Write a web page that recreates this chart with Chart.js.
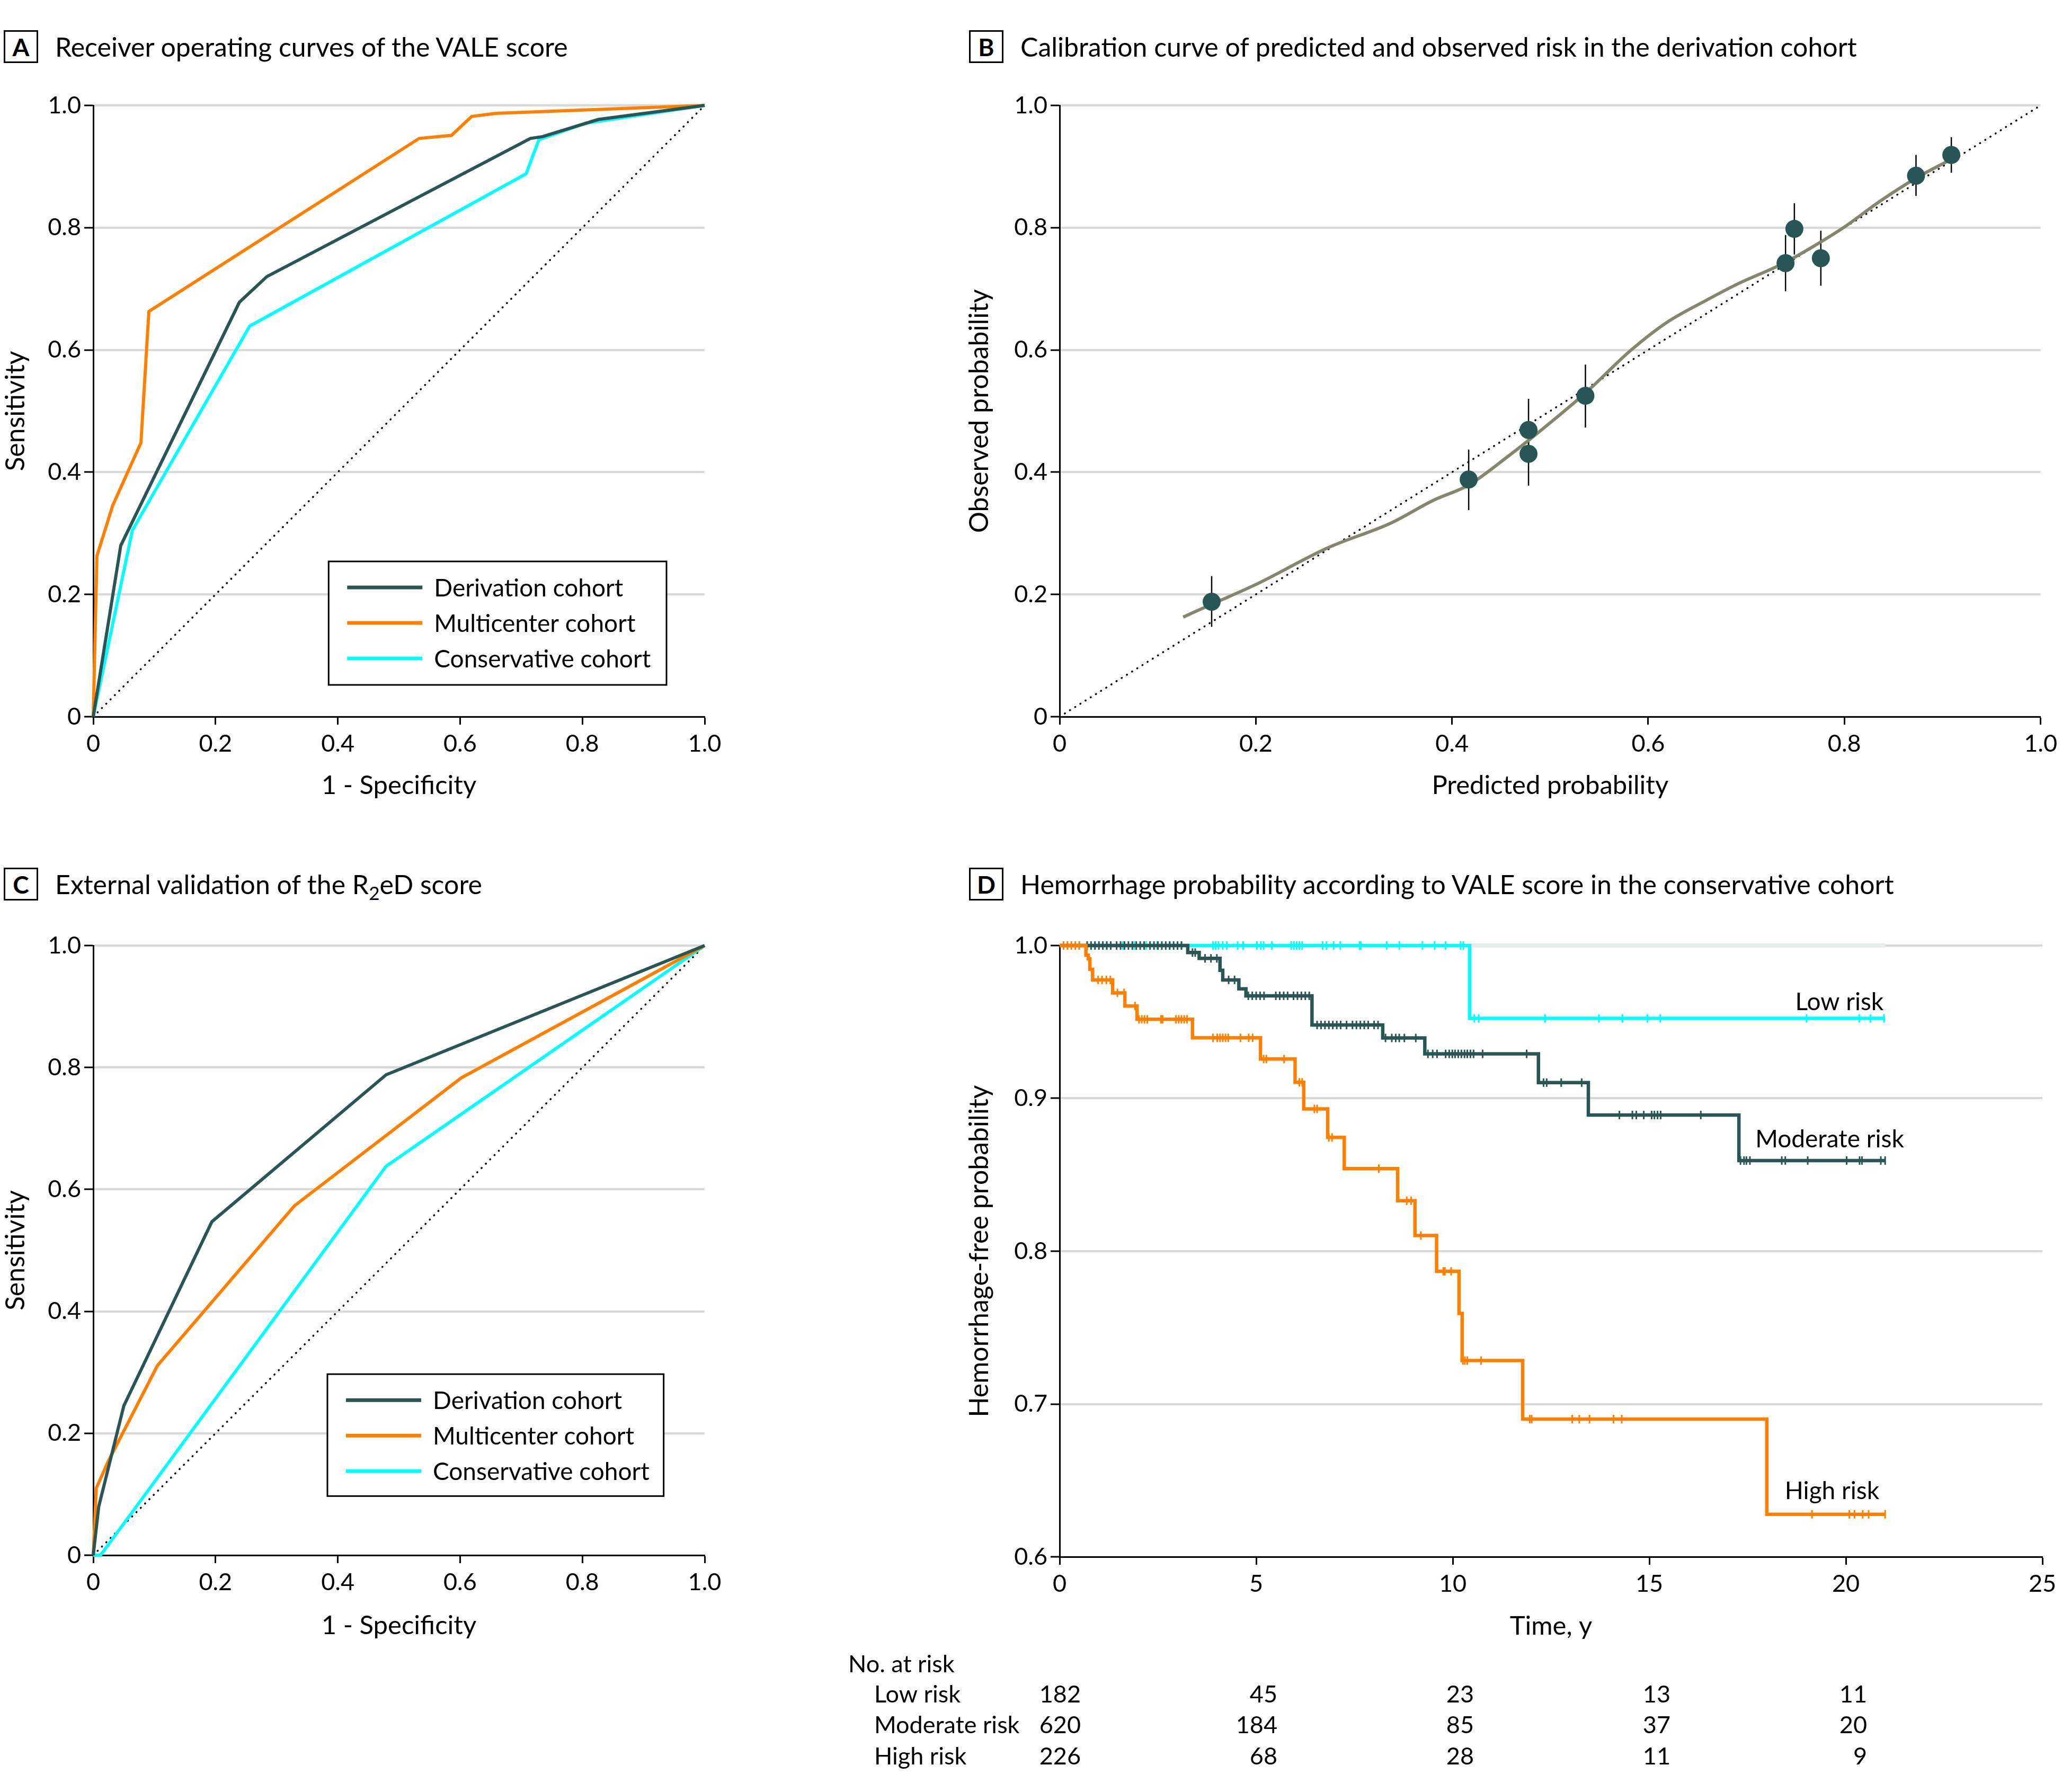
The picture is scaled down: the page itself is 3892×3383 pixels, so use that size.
<!DOCTYPE html>
<html>
<head>
<meta charset="utf-8">
<script src="https://cdn.jsdelivr.net/npm/chart.js@4.4.1/dist/chart.umd.min.js"></script>
<style>
  body { margin: 0; background: #fff; width: 3892px; height: 3383px; position: relative; overflow: hidden; font-family: Lato, "Open Sans", sans-serif; color: #000; }
  canvas { position: absolute; }
  .tag { position: absolute; width: 59px; height: 56px; border: 3px solid #000; font-weight: bold; font-size: 46px; display: flex; align-items: center; justify-content: center; }
  .title { position: absolute; font-size: 50px; line-height: 50px; white-space: nowrap; }
  .title sub { font-size: 35px; vertical-align: -11px; line-height: 0; }
</style>
</head>
<body>
<div class="tag" style="left:7px;top:57px">A</div>
<div class="title" style="left:104px;top:63px">Receiver operating curves of the VALE score</div>
<div class="tag" style="left:1829px;top:57px">B</div>
<div class="title" style="left:1926px;top:63px">Calibration curve of predicted and observed risk in the derivation cohort</div>
<div class="tag" style="left:7px;top:1638px">C</div>
<div class="title" style="left:104px;top:1644px">External validation of the R<sub>2</sub>eD score</div>
<div class="tag" style="left:1829px;top:1638px">D</div>
<div class="title" style="left:1926px;top:1644px">Hemorrhage probability according to VALE score in the conservative cohort</div>

<canvas id="chartA" width="1420" height="1400" style="left:0px;top:150px"></canvas>
<canvas id="chartB" width="2092" height="1400" style="left:1800px;top:150px"></canvas>
<canvas id="chartC" width="1420" height="1400" style="left:0px;top:1750px"></canvas>
<canvas id="chartD" width="2392" height="1633" style="left:1500px;top:1750px"></canvas>

<script>
// Panel A - ROC curves of the VALE score
const valeDerivationFpr = [0, 0.045, 0.239, 0.284, 0.715, 0.735, 0.826, 1];
const valeDerivationTpr = [0, 0.280, 0.678, 0.720, 0.946, 0.949, 0.977, 1];
const valeMulticenterFpr = [0, 0.006, 0.032, 0.078, 0.091, 0.533, 0.586, 0.619, 0.659, 1];
const valeMulticenterTpr = [0, 0.263, 0.346, 0.448, 0.663, 0.946, 0.951, 0.982, 0.987, 1];
const valeConservativeFpr = [0, 0.064, 0.256, 0.708, 0.729, 0.806, 1];
const valeConservativeTpr = [0, 0.305, 0.639, 0.888, 0.944, 0.971, 1];

// Panel B - calibration
const predictedProb = [0.155, 0.417, 0.478, 0.478, 0.536, 0.740, 0.749, 0.776, 0.873, 0.909];
const observedProb = [0.188, 0.388, 0.469, 0.430, 0.525, 0.742, 0.798, 0.750, 0.885, 0.919];
const observedLow = [0.147, 0.338, 0.418, 0.378, 0.473, 0.696, 0.756, 0.705, 0.852, 0.890];
const observedHigh = [0.230, 0.437, 0.520, 0.482, 0.576, 0.788, 0.840, 0.795, 0.919, 0.948];
const smoothPredicted = [0.126, 0.155, 0.201, 0.273, 0.338, 0.381, 0.417, 0.458, 0.478, 0.537, 0.582, 0.619, 0.659, 0.690, 0.737, 0.768, 0.799, 0.836, 0.873, 0.909];
const smoothObserved = [0.163, 0.184, 0.217, 0.276, 0.317, 0.354, 0.379, 0.427, 0.452, 0.531, 0.599, 0.645, 0.681, 0.707, 0.741, 0.769, 0.800, 0.843, 0.881, 0.912];

// Panel C - external validation of the R2eD score
const r2edDerivationFpr = [0, 0.009, 0.050, 0.194, 0.479, 1];
const r2edDerivationTpr = [0, 0.080, 0.245, 0.547, 0.788, 1];
const r2edMulticenterFpr = [0, 0.005, 0.025, 0.105, 0.329, 0.602, 1];
const r2edMulticenterTpr = [0, 0.110, 0.155, 0.311, 0.573, 0.783, 1];
const r2edConservativeFpr = [0, 0.012, 0.479, 1];
const r2edConservativeTpr = [0, 0, 0.638, 1];

// Panel D - Kaplan-Meier, hemorrhage-free probability
const lowTimes = [0, 10.43, 21.0];
const lowSurv = [1, 0.9523, 0.9523];
const lowCensor = [0.2, 0.5, 0.9, 1.2, 1.61, 1.9, 2.2, 2.48, 2.8, 3.1, 3.90, 3.97, 4.04, 4.15, 4.25, 4.53, 4.67, 5.02, 5.12, 5.19, 5.40, 5.89, 5.96, 6.03, 6.10, 6.17, 6.69, 6.79, 6.97, 7.14, 7.63, 7.66, 8.32, 8.64, 9.23, 9.54, 9.82, 10.20, 10.27, 10.55, 10.66, 12.35, 13.72, 14.32, 14.95, 15.28, 19.00, 20.34, 20.63, 20.97];
const lowUpperTimes = [10.43, 21.0];
const lowUpperSurv = [1, 1];

const modTimes = [0, 3.26, 3.55, 4.08, 4.15, 4.56, 4.74, 6.42, 8.22, 9.29, 12.18, 13.45, 17.28, 21.0];
const modSurv = [1, 0.9954, 0.9916, 0.9838, 0.9775, 0.9717, 0.9671, 0.948, 0.9395, 0.9291, 0.9103, 0.8891, 0.8593, 0.8593];
const modCensor = [0.7, 0.8, 0.9, 1.0, 1.1, 1.2, 1.3, 1.45, 1.55, 1.65, 1.75, 1.85, 1.95, 2.05, 2.15, 2.3, 2.4, 2.5, 2.6, 2.7, 2.8, 2.9, 3.0, 3.1, 3.38, 3.45, 3.7, 3.85, 4.0, 4.3, 4.45, 4.8, 4.9, 5.0, 5.1, 5.2, 5.5, 5.6, 5.7, 5.8, 5.95, 6.05, 6.15, 6.25, 6.35, 6.55, 6.65, 6.75, 6.85, 6.95, 7.05, 7.15, 7.3, 7.45, 7.55, 7.65, 7.75, 7.85, 8.0, 8.1, 8.29, 8.45, 8.55, 8.64, 8.77, 9.06, 9.37, 9.49, 9.60, 9.82, 9.91, 9.99, 10.06, 10.14, 10.22, 10.30, 10.37, 10.45, 10.53, 10.76, 11.88, 12.31, 12.39, 12.76, 13.28, 14.24, 14.57, 14.67, 14.86, 15.06, 15.13, 15.21, 15.29, 16.31, 17.32, 17.41, 17.47, 17.56, 18.37, 18.46, 19.03, 20.02, 20.35, 20.41, 20.89, 21.0];

const highTimes = [0, 0.67, 0.73, 0.77, 0.84, 1.35, 1.66, 1.97, 3.38, 5.11, 5.99, 6.21, 6.82, 7.24, 8.60, 9.04, 9.59, 10.16, 10.24, 11.78, 17.99, 21.0];
const highSurv = [1, 0.9937, 0.9913, 0.9844, 0.9775, 0.969, 0.9604, 0.9517, 0.9396, 0.9257, 0.9105, 0.8931, 0.8744, 0.854, 0.833, 0.8102, 0.7868, 0.7593, 0.7284, 0.6901, 0.6278, 0.6278];
const highCensor = [0.1, 0.2, 0.3, 0.4, 0.5, 0.98, 1.08, 1.19, 1.29, 1.47, 1.64, 1.92, 2.02, 2.09, 2.16, 2.23, 2.58, 2.62, 2.96, 3.03, 3.10, 3.17, 3.24, 3.90, 4.01, 4.08, 4.15, 4.22, 4.29, 4.60, 4.81, 4.91, 5.19, 5.26, 5.71, 6.10, 6.17, 6.48, 6.55, 6.85, 6.93, 8.12, 8.83, 8.94, 9.19, 9.76, 9.80, 9.96, 10.26, 10.31, 10.37, 10.72, 11.96, 12.01, 13.04, 13.22, 13.48, 14.09, 14.30, 19.14, 20.09, 20.22, 20.43, 20.58, 21.0];

// number at risk table
const riskTimes = [0, 5, 10, 15, 20];
const riskGroups = ['Low risk', 'Moderate risk', 'High risk'];
const riskLow = [182, 45, 23, 13, 11];
const riskModerate = [620, 184, 85, 37, 20];
const riskHigh = [226, 68, 28, 11, 9];

const FONT = 'Lato, "Open Sans", sans-serif';
const darkTeal = '#2b5454';
const orange = '#ff8000';
const cyan = '#00ffff';
const gridGray = '#d9d9d9';

Chart.defaults.font.family = FONT;
Chart.defaults.color = '#000';

function toPoints(xs, ys) {
    return xs.map((x, i) => ({ x: x, y: ys[i] }));
}

function survAt(times, surv, t) {
    let s = surv[0];
    for (let i = 0; i < times.length; i++) {
        if (times[i] <= t) s = surv[i];
    }
    return s;
}

const fmtProb = v => Math.abs(v) < 1e-9 ? '0' : v.toFixed(1);

function xAxis(o) {
    return {
        type: 'linear', min: o.min, max: o.max,
        ticks: { stepSize: o.step, color: '#000', font: { size: 45 }, padding: 9, maxRotation: 0, autoSkip: false, callback: o.fmt },
        grid: { drawOnChartArea: false, drawTicks: true, tickLength: 15, tickWidth: 3, tickColor: '#000' },
        border: { display: true, color: '#000', width: 3 },
        title: { display: true, text: o.title, color: '#000', font: { size: 49 }, padding: { top: 0, bottom: o.titlePad } },
        afterFit: s => { s.height = o.height; }
    };
}

function yAxis(o) {
    return {
        type: 'linear', min: o.min, max: o.max,
        ticks: { stepSize: o.step, color: '#000', font: { size: 45 }, padding: 6, autoSkip: false, callback: fmtProb },
        grid: { color: gridGray, lineWidth: 4, drawTicks: true, tickLength: 17, tickWidth: 3, tickColor: '#000' },
        border: { display: true, color: '#000', width: 3 },
        title: { display: true, text: o.title, color: '#000', font: { size: 50 }, padding: { top: o.titlePad, bottom: 0 } },
        afterFit: s => { s.width = o.width; }
    };
}

// legend drawn inside the plot, framed box
const boxLegend = {
    id: 'boxLegend',
    afterDraw(chart, args, o) {
        if (!o.show) return;
        const { ctx, chartArea: a } = chart;
        const w = a.right - a.left, h = a.bottom - a.top;
        const x0 = a.left + o.x0 * w, x1 = a.left + o.x1 * w;
        const y0 = a.top + o.y0 * h, y1 = a.top + o.y1 * h;
        ctx.save();
        ctx.fillStyle = '#fff';
        ctx.fillRect(x0, y0, x1 - x0, y1 - y0);
        ctx.strokeStyle = '#000';
        ctx.lineWidth = 3;
        ctx.strokeRect(x0, y0, x1 - x0, y1 - y0);
        const items = chart.data.datasets.filter(d => d.inLegend);
        items.forEach((d, i) => {
            const y = y0 + 49 + i * 67;
            ctx.strokeStyle = d.borderColor;
            ctx.lineWidth = 7;
            ctx.beginPath();
            ctx.moveTo(x0 + 35, y);
            ctx.lineTo(x0 + 177, y);
            ctx.stroke();
            ctx.fillStyle = '#000';
            ctx.font = '46px ' + FONT;
            ctx.textBaseline = 'middle';
            ctx.textAlign = 'left';
            ctx.fillText(d.label, x0 + 199, y + 2);
        });
        ctx.restore();
    }
};

function diagonal() {
    return {
        data: [{ x: 0, y: 0 }, { x: 1, y: 1 }],
        borderColor: '#000', borderWidth: 3.5, borderDash: [0.5, 11], borderCapStyle: 'round',
        pointRadius: 0, clip: false
    };
}

function rocChart(id, curves, legendPos, pad, xHeight, xTitlePad) {
    const datasets = curves.map(c => ({
        label: c.label, inLegend: true,
        data: toPoints(c.x, c.y),
        borderColor: c.color, borderWidth: 6, pointRadius: 0, tension: 0, clip: false
    }));
    datasets.push(diagonal());
    new Chart(document.getElementById(id), {
        type: 'line',
        data: { datasets: datasets },
        options: {
            responsive: false, animation: false, devicePixelRatio: 1,
            layout: { padding: pad },
            plugins: { legend: { display: false }, tooltip: { enabled: false }, boxLegend: legendPos },
            scales: {
                x: xAxis({ min: 0, max: 1, step: 0.2, fmt: fmtProb, title: '1 - Specificity', height: xHeight, titlePad: xTitlePad }),
                y: yAxis({ min: 0, max: 1, step: 0.2, title: 'Sensitivity', width: 176, titlePad: 0 })
            }
        },
        plugins: [boxLegend]
    });
}

rocChart('chartA', [
    { label: 'Derivation cohort', x: valeDerivationFpr, y: valeDerivationTpr, color: darkTeal },
    { label: 'Multicenter cohort', x: valeMulticenterFpr, y: valeMulticenterTpr, color: orange },
    { label: 'Conservative cohort', x: valeConservativeFpr, y: valeConservativeTpr, color: cyan }
], { show: true, x0: 0.385, x1: 0.9376, y0: 0.746, y1: 0.948 },
   { left: 0, top: 49, right: 90, bottom: 0 }, 197, 37);

rocChart('chartC', [
    { label: 'Derivation cohort', x: r2edDerivationFpr, y: r2edDerivationTpr, color: darkTeal },
    { label: 'Multicenter cohort', x: r2edMulticenterFpr, y: r2edMulticenterTpr, color: orange },
    { label: 'Conservative cohort', x: r2edConservativeFpr, y: r2edConservativeTpr, color: cyan }
], { show: true, x0: 0.383, x1: 0.933, y0: 0.703, y1: 0.903 },
   { left: 0, top: 35, right: 90, bottom: 0 }, 214, 51);

// error bars for the calibration points
const errorBars = {
    id: 'errorBars',
    beforeDatasetsDraw(chart) {
        const { ctx, scales: { x, y } } = chart;
        ctx.save();
        ctx.strokeStyle = '#000';
        ctx.lineWidth = 2.5;
        predictedProb.forEach((p, i) => {
            const px = x.getPixelForValue(p);
            ctx.beginPath();
            ctx.moveTo(px, y.getPixelForValue(observedLow[i]));
            ctx.lineTo(px, y.getPixelForValue(observedHigh[i]));
            ctx.stroke();
        });
        ctx.restore();
    }
};

new Chart(document.getElementById('chartB'), {
    type: 'line',
    data: {
        datasets: [
            {
                label: 'Observed', data: toPoints(predictedProb, observedProb), showLine: false,
                pointRadius: 17, pointBackgroundColor: '#285555', pointBorderColor: '#285555', pointBorderWidth: 0, clip: false
            },
            {
                label: 'Smoothed', data: toPoints(smoothPredicted, smoothObserved),
                borderColor: '#86866f', borderWidth: 6, pointRadius: 0, cubicInterpolationMode: 'monotone', clip: false
            },
            diagonal()
        ]
    },
    options: {
        responsive: false, animation: false, devicePixelRatio: 1,
        layout: { padding: { left: 0, top: 49, right: 37, bottom: 0 } },
        plugins: { legend: { display: false }, tooltip: { enabled: false } },
        scales: {
            x: xAxis({ min: 0, max: 1, step: 0.2, fmt: fmtProb, title: 'Predicted probability', height: 197, titlePad: 37 }),
            y: yAxis({ min: 0, max: 1, step: 0.2, title: 'Observed probability', width: 200, titlePad: 19 })
        }
    },
    plugins: [errorBars]
});

// curve labels and number-at-risk table under the KM plot
const kmExtras = {
    id: 'kmExtras',
    afterDraw(chart, args, o) {
        const { ctx, chartArea: a, scales: { x, y } } = chart;
        ctx.save();
        ctx.fillStyle = '#000';
        ctx.font = '46px ' + FONT;
        ctx.textAlign = 'right';
        ctx.textBaseline = 'middle';
        o.labels.forEach(l => ctx.fillText(l.text, x.getPixelForValue(l.x), y.getPixelForValue(l.y)));

        ctx.font = '45px ' + FONT;
        ctx.textAlign = 'left';
        ctx.fillText('No. at risk', a.left - 399, a.bottom + 203);
        const rows = [riskLow, riskModerate, riskHigh];
        rows.forEach((row, r) => {
            const ry = a.bottom + 260 + r * 58.5;
            ctx.textAlign = 'left';
            ctx.fillText(riskGroups[r], a.left - 350, ry);
            ctx.textAlign = 'right';
            row.forEach((n, j) => ctx.fillText(String(n), x.getPixelForValue(riskTimes[j]) + 40, ry));
        });
        ctx.restore();
    }
};

function kmLine(times, surv, color) {
    return { data: toPoints(times, surv), stepped: true, borderColor: color, borderWidth: 6.5, pointRadius: 0, clip: false };
}
function kmCensor(censor, times, surv, color) {
    return {
        data: censor.map(t => ({ x: t, y: survAt(times, surv, t) })),
        showLine: false, pointStyle: 'line', pointRotation: 90, pointRadius: 8,
        pointBorderColor: color, pointBorderWidth: 3, clip: false
    };
}

new Chart(document.getElementById('chartD'), {
    type: 'line',
    data: {
        datasets: [
            kmCensor(highCensor, highTimes, highSurv, orange),
            kmLine(highTimes, highSurv, orange),
            kmCensor(modCensor, modTimes, modSurv, darkTeal),
            kmLine(modTimes, modSurv, darkTeal),
            kmCensor(lowCensor, lowTimes, lowSurv, cyan),
            kmLine(lowTimes, lowSurv, cyan),
            { data: toPoints(lowUpperTimes, lowUpperSurv), borderColor: '#e7eded', borderWidth: 8, pointRadius: 0, clip: false }
        ]
    },
    options: {
        responsive: false, animation: false, devicePixelRatio: 1,
        layout: { padding: { left: 300, top: 35, right: 37, bottom: 0 } },
        plugins: {
            legend: { display: false }, tooltip: { enabled: false },
            kmExtras: {
                labels: [
                    { text: 'Low risk', x: 20.96, y: 0.963 },
                    { text: 'Moderate risk', x: 21.48, y: 0.873 },
                    { text: 'High risk', x: 20.85, y: 0.643 }
                ]
            }
        },
        scales: {
            x: xAxis({ min: 0, max: 25, step: 5, fmt: v => String(v), title: 'Time, y', height: 444, titlePad: 283 }),
            y: yAxis({ min: 0.6, max: 1, step: 0.1, title: 'Hemorrhage-free probability', width: 200, titlePad: 19 })
        }
    },
    plugins: [kmExtras]
});
</script>
</body>
</html>
